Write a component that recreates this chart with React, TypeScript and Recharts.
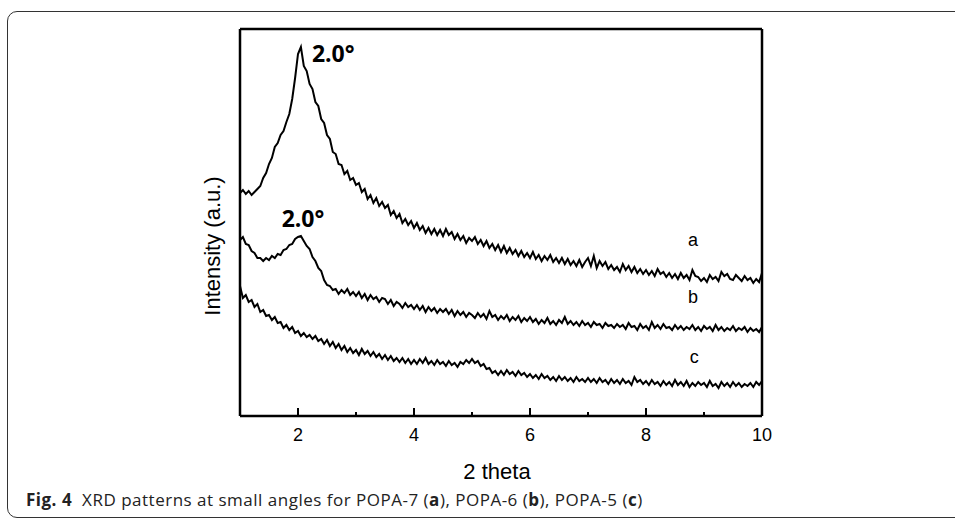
import React from 'react';
import { LineChart, Line, XAxis, YAxis, ReferenceLine, ReferenceDot } from 'recharts';

// 2 theta (degrees)
const thetas = [
  1.00, 1.05, 1.10, 1.15, 1.20, 1.25, 1.30, 1.35, 1.40, 1.45,
  1.50, 1.55, 1.60, 1.65, 1.70, 1.75, 1.80, 1.85, 1.90, 1.95,
  2.00, 2.05, 2.10, 2.15, 2.20, 2.25, 2.30, 2.35, 2.40, 2.45,
  2.50, 2.55, 2.60, 2.65, 2.70, 2.75, 2.80, 2.85, 2.90, 2.95,
  3.00, 3.05, 3.10, 3.15, 3.20, 3.25, 3.30, 3.35, 3.40, 3.45,
  3.50, 3.55, 3.60, 3.65, 3.70, 3.75, 3.80, 3.85, 3.90, 3.95,
  4.00, 4.05, 4.10, 4.15, 4.20, 4.25, 4.30, 4.35, 4.40, 4.45,
  4.50, 4.55, 4.60, 4.65, 4.70, 4.75, 4.80, 4.85, 4.90, 4.95,
  5.00, 5.05, 5.10, 5.15, 5.20, 5.25, 5.30, 5.35, 5.40, 5.45,
  5.50, 5.55, 5.60, 5.65, 5.70, 5.75, 5.80, 5.85, 5.90, 5.95,
  6.00, 6.05, 6.10, 6.15, 6.20, 6.25, 6.30, 6.35, 6.40, 6.45,
  6.50, 6.55, 6.60, 6.65, 6.70, 6.75, 6.80, 6.85, 6.90, 6.95,
  7.00, 7.05, 7.10, 7.15, 7.20, 7.25, 7.30, 7.35, 7.40, 7.45,
  7.50, 7.55, 7.60, 7.65, 7.70, 7.75, 7.80, 7.85, 7.90, 7.95,
  8.00, 8.05, 8.10, 8.15, 8.20, 8.25, 8.30, 8.35, 8.40, 8.45,
  8.50, 8.55, 8.60, 8.65, 8.70, 8.75, 8.80, 8.85, 8.90, 8.95,
  9.00, 9.05, 9.10, 9.15, 9.20, 9.25, 9.30, 9.35, 9.40, 9.45,
  9.50, 9.55, 9.60, 9.65, 9.70, 9.75, 9.80, 9.85, 9.90, 9.95,
  10.00,
];

// POPA-7 (a)
const seriesA = [
  223, 226, 222, 225, 221, 224, 227, 230, 238, 243,
  252, 258, 269, 273, 281, 285, 294, 302, 317, 338,
  362, 369, 350, 345, 332, 327, 314, 310, 297, 293,
  281, 277, 264, 262, 252, 251, 242, 245, 236, 238,
  231, 233, 224, 227, 217, 221, 213, 218, 210, 214,
  208, 211, 201, 205, 198, 202, 193, 197, 191, 195,
  188, 193, 186, 190, 183, 188, 182, 187, 181, 186,
  180, 187, 181, 184, 177, 182, 176, 180, 173, 178,
  175, 179, 172, 176, 170, 175, 168, 172, 166, 171,
  164, 170, 163, 168, 162, 166, 160, 165, 159, 163,
  158, 164, 157, 161, 155, 160, 156, 161, 154, 158,
  153, 158, 152, 157, 151, 155, 150, 156, 149, 154,
  158, 150, 160, 148, 155, 150, 154, 147, 151, 146,
  149, 144, 152, 146, 150, 144, 149, 143, 147, 142,
  146, 141, 145, 140, 147, 142, 144, 139, 143, 138,
  142, 137, 143, 138, 141, 136, 146, 140, 139, 135,
  138, 134, 141, 137, 139, 135, 144, 140, 142, 137,
  136, 141, 138, 135, 140, 136, 138, 133, 137, 134,
  143,
];

// POPA-6 (b)
const seriesB = [
  176, 179, 172, 171, 165, 163, 158, 158, 155, 158,
  156, 160, 158, 162, 161, 166, 167, 171, 172, 177,
  179, 180, 175, 170, 167, 159, 155, 148, 145, 136,
  131, 130, 126, 127, 122, 126, 123, 127, 121, 124,
  120, 124, 118, 122, 116, 121, 117, 119, 114, 118,
  117, 112, 116, 110, 114, 112, 108, 113, 109, 111,
  107, 111, 106, 110, 104, 109, 105, 108, 103, 107,
  104, 107, 102, 106, 100, 105, 101, 104, 99, 103,
  101, 98, 103, 99, 102, 97, 105, 99, 101, 96,
  100, 97, 101, 95, 99, 96, 100, 94, 98, 95,
  99, 94, 97, 92, 96, 93, 98, 92, 95, 91,
  96, 93, 99, 92, 95, 91, 94, 90, 95, 91,
  93, 89, 94, 91, 92, 88, 93, 90, 91, 88,
  92, 89, 91, 87, 93, 89, 90, 86, 92, 88,
  90, 86, 94, 88, 91, 87, 92, 88, 89, 86,
  91, 87, 90, 86, 89, 87, 91, 86, 89, 85,
  90, 87, 89, 85, 91, 86, 89, 85, 88, 86,
  90, 85, 88, 86, 89, 84, 88, 85, 87, 84,
  89,
];

// POPA-5 (c)
const seriesC = [
  130, 118, 121, 114, 116, 109, 112, 104, 106, 100,
  101, 96, 99, 93, 94, 88, 91, 86, 89, 83,
  85, 80, 83, 79, 81, 77, 80, 75, 77, 72,
  76, 70, 74, 68, 72, 66, 70, 64, 68, 63,
  66, 61, 67, 62, 65, 60, 64, 59, 62, 57,
  61, 56, 60, 55, 58, 54, 58, 53, 57, 52,
  56, 52, 57, 53, 58, 52, 55, 51, 56, 52,
  54, 50, 55, 51, 53, 49, 54, 52, 56, 53,
  57, 53, 55, 50, 52, 47, 48, 43, 45, 41,
  45, 41, 46, 42, 44, 40, 45, 41, 43, 39,
  42, 38, 41, 37, 42, 38, 40, 36, 39, 35,
  40, 36, 39, 35, 38, 34, 39, 35, 37, 34,
  38, 34, 37, 33, 38, 34, 36, 32, 37, 33,
  36, 32, 37, 33, 35, 31, 39, 34, 36, 32,
  35, 31, 36, 32, 34, 30, 35, 31, 34, 30,
  36, 31, 34, 30, 35, 29, 33, 30, 34, 31,
  33, 29, 35, 30, 32, 28, 34, 30, 33, 29,
  34, 30, 33, 29, 32, 30, 33, 29, 34, 31,
  35,
];

const xTicks = [2, 3, 4, 5, 6, 7, 8, 9, 10];
const majorTicks = [2, 4, 6, 8, 10];

const peakText = '2.0°';
const peakA = [2.05, 369];
const peakB = [2.0, 179];

const curveNames = ['a', 'b', 'c'];
const curveNameX = [8.81, 8.81, 8.83];
const curveNameY = [176, 119, 59];

const xTitle = '2 theta';
const yTitle = 'Intensity (a.u.)';

const data = thetas.map((t, i) => ({ theta: t, a: seriesA[i], b: seriesB[i], c: seriesC[i] }));

const AXIS_FONT = '"Liberation Sans", Arial, sans-serif';
const CAP_FONT = '"Open Sans", "Noto Sans", sans-serif';

function Tick(props: any) {
  const { x, y, payload } = props;
  const v = payload.value;
  const major = majorTicks.includes(v);
  return (
    <g>
      <line x1={x} x2={x} y1={y} y2={y - (major ? 8 : 4)} stroke="#000" strokeWidth={2} />
      {major && (
        <text x={x} y={y + 19} textAnchor="middle" dominantBaseline="central" fontSize={18} fontFamily={AXIS_FONT} fill="#000">
          {v}
        </text>
      )}
    </g>
  );
}

export default function App() {
  return (
    <div style={{ position: 'absolute', left: 0, top: 0, width: 955, height: 519, overflow: 'hidden', background: '#fff' }}>
      <div
        style={{
          position: 'absolute',
          left: 7,
          top: 11,
          width: 1000,
          height: 507,
          border: '1.5px solid #333',
          borderRadius: 10,
          boxSizing: 'border-box',
        }}
      />
      <div style={{ position: 'absolute', left: 0, top: 0 }}>
        <LineChart width={955} height={519} data={data} margin={{ top: 29, right: 193, bottom: 73, left: 240 }}>
          <XAxis
            dataKey="theta"
            type="number"
            domain={[1, 10]}
            ticks={xTicks}
            interval={0}
            allowDataOverflow
            tick={(p: any) => <Tick {...p} />}
            tickLine={false}
            tickSize={0}
            tickMargin={0}
            height={30}
            axisLine={{ stroke: '#000', strokeWidth: 2.5 }}
          />
          <YAxis type="number" domain={[0, 387]} hide width={0} allowDataOverflow />
          <Line dataKey="a" type="linear" stroke="#000" strokeWidth={2} dot={false} isAnimationActive={false} />
          <Line dataKey="b" type="linear" stroke="#000" strokeWidth={2} dot={false} isAnimationActive={false} />
          <Line dataKey="c" type="linear" stroke="#000" strokeWidth={2} dot={false} isAnimationActive={false} />
          <ReferenceLine y={387} stroke="#000" strokeWidth={2.5} />
          <ReferenceLine x={1} stroke="#000" strokeWidth={2.5} />
          <ReferenceLine x={10} stroke="#000" strokeWidth={2.5} />
          <ReferenceDot
            x={peakA[0]}
            y={peakA[1]}
            r={0}
            fill="none"
            stroke="none"
            label={{ value: peakText, position: 'right', offset: 11, dy: 7, fontSize: 23, fontWeight: 700, fontFamily: CAP_FONT, fill: '#000' }}
          />
          <ReferenceDot
            x={peakB[0]}
            y={peakB[1]}
            r={0}
            fill="none"
            stroke="none"
            label={{ value: peakText, position: 'top', offset: 10, dx: 5, fontSize: 23, fontWeight: 700, fontFamily: CAP_FONT, fill: '#000' }}
          />
          {curveNames.map((n, i) => (
            <ReferenceDot
              key={n}
              x={curveNameX[i]}
              y={curveNameY[i]}
              r={0}
              fill="none"
              stroke="none"
              label={{ value: n, position: 'center', fontSize: 18, fontFamily: AXIS_FONT, fill: '#000' }}
            />
          ))}
        </LineChart>
      </div>
      <div
        style={{
          position: 'absolute',
          left: 397,
          top: 460,
          width: 200,
          textAlign: 'center',
          lineHeight: '24px',
          fontSize: 22,
          fontFamily: AXIS_FONT,
          color: '#000',
          whiteSpace: 'nowrap',
        }}
      >
        {xTitle}
      </div>
      <div
        style={{
          position: 'absolute',
          left: 63,
          top: 233,
          width: 300,
          height: 26,
          textAlign: 'center',
          lineHeight: '26px',
          fontSize: 22,
          fontFamily: AXIS_FONT,
          color: '#000',
          transform: 'rotate(-90deg)',
          whiteSpace: 'nowrap',
        }}
      >
        {yTitle}
      </div>
      <div
        style={{
          position: 'absolute',
          left: 26,
          top: 490,
          lineHeight: '20px',
          fontSize: 17,
          letterSpacing: '0.5px',
          fontFamily: CAP_FONT,
          color: '#222',
          whiteSpace: 'nowrap',
        }}
      >
        <b style={{ marginRight: 10 }}>Fig. 4</b>
        {'XRD patterns at small angles for POPA-7 ('}
        <b>a</b>
        {'), POPA-6 ('}
        <b>b</b>
        {'), POPA-5 ('}
        <b>c</b>
        {')'}
      </div>
    </div>
  );
}
